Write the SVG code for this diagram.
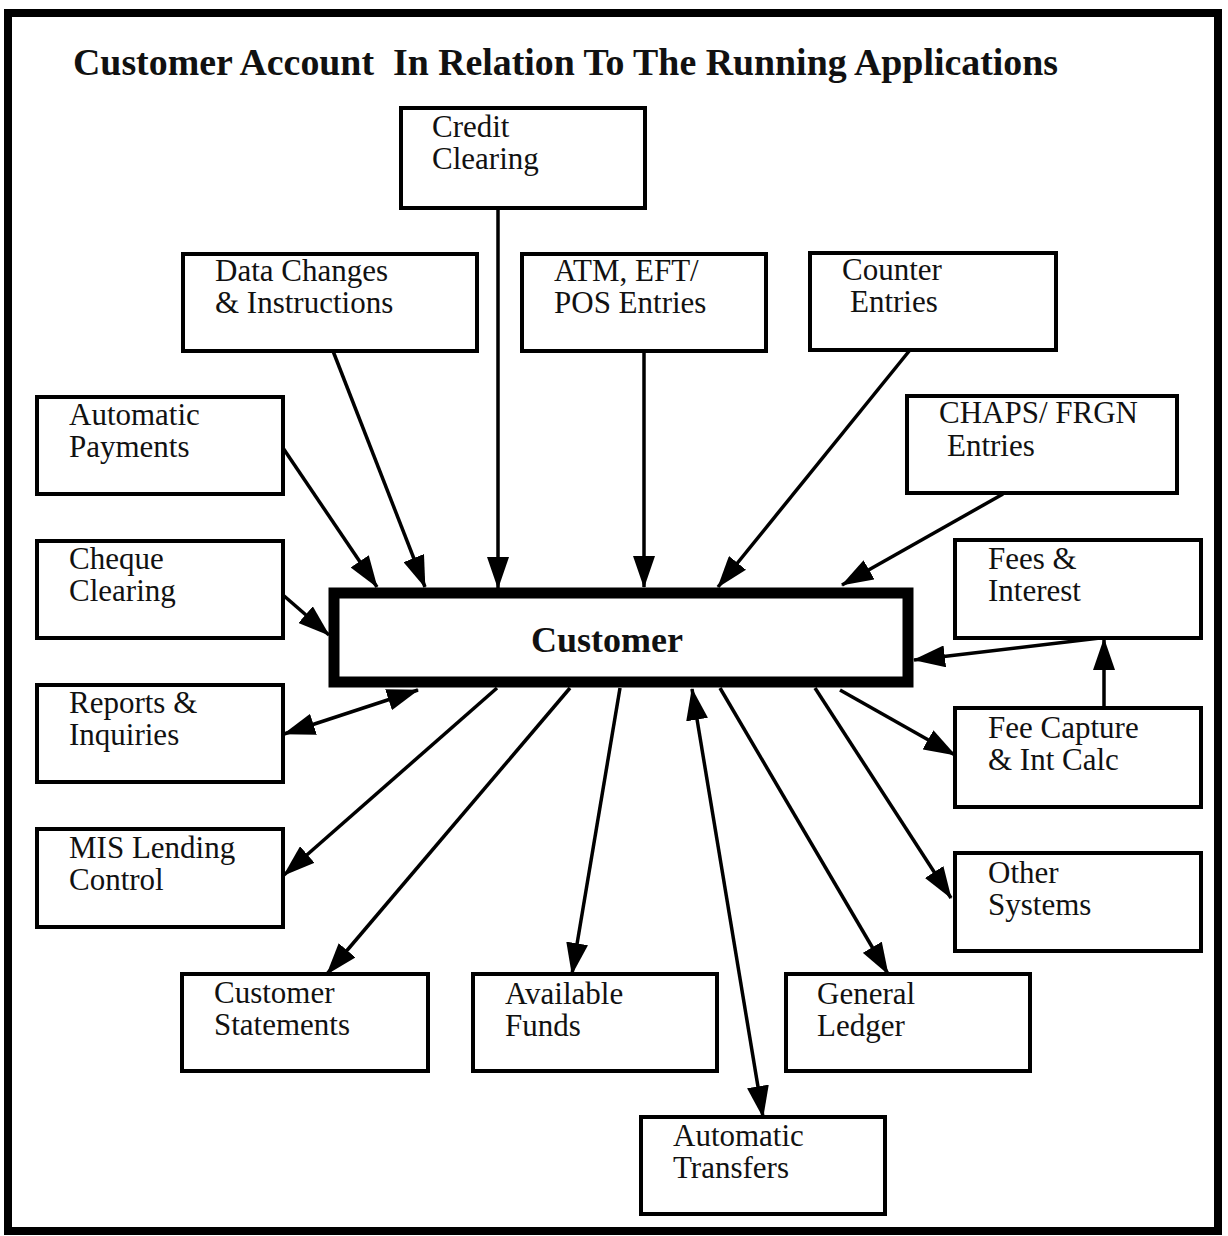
<svg xmlns="http://www.w3.org/2000/svg" width="1228" height="1236" viewBox="0 0 1228 1236">
<style>
.box{fill:#fff;stroke:#000;stroke-width:4}
.main{fill:#fff;stroke:#000;stroke-width:11}
.lbl{font-family:"Liberation Serif","Times New Roman",serif;font-size:31px;fill:#111}
.title{font-family:"Liberation Serif","Times New Roman",serif;font-size:38px;font-weight:bold;fill:#111}
.ctr{font-family:"Liberation Serif","Times New Roman",serif;font-size:36px;font-weight:bold;fill:#111}
.ln{stroke:#000;stroke-width:3.5;fill:none;marker-end:url(#ah)}
.bi{marker-start:url(#ah)}
</style>
<defs>
<marker id="ah" markerUnits="userSpaceOnUse" markerWidth="32" markerHeight="22" viewBox="0 0 32 22" refX="31" refY="11" orient="auto-start-reverse">
<path d="M0,0 L32,11 L0,22 z" fill="#000"/>
</marker>
</defs>
<rect x="0" y="0" width="1228" height="1236" fill="#fff"/>
<rect x="8" y="13" width="1210" height="1218" fill="none" stroke="#000" stroke-width="8"/>
<text class="title" x="73" y="75" textLength="985" lengthAdjust="spacingAndGlyphs">Customer Account&#160; In Relation To The Running Applications</text>

<g id="connectors">
<line class="ln" x1="498" y1="208" x2="498" y2="588"/>
<line class="ln" x1="333" y1="351" x2="425" y2="587"/>
<line class="ln" x1="644" y1="351" x2="644" y2="587"/>
<line class="ln" x1="910" y1="350" x2="718" y2="587"/>
<line class="ln" x1="283" y1="448" x2="377" y2="587"/>
<line class="ln" x1="1003" y1="494" x2="842" y2="585"/>
<line class="ln" x1="283" y1="595" x2="329" y2="635"/>
<line class="ln" x1="1100" y1="638" x2="914" y2="660"/>
<line class="ln" x1="1104" y1="708" x2="1104" y2="639"/>
<line class="ln" x1="840" y1="690" x2="955" y2="755"/>
<line class="ln bi" x1="418" y1="690" x2="284" y2="734"/>
<line class="ln" x1="497" y1="688" x2="284" y2="875"/>
<line class="ln" x1="570" y1="688" x2="327" y2="974"/>
<line class="ln" x1="620" y1="688" x2="572" y2="974"/>
<line class="ln bi" x1="692" y1="689" x2="763" y2="1117"/>
<line class="ln" x1="720" y1="688" x2="888" y2="974"/>
<line class="ln" x1="815" y1="688" x2="951" y2="898"/>
</g>

<g id="credit-clearing"><rect class="box" x="401" y="108" width="244" height="100"/><text class="lbl" x="432" y="137">Credit</text><text class="lbl" x="432" y="169">Clearing</text></g>
<g id="data-changes"><rect class="box" x="183" y="254" width="294" height="97"/><text class="lbl" x="215" y="281">Data Changes</text><text class="lbl" x="215" y="313">&amp; Instructions</text></g>
<g id="atm-eft-pos"><rect class="box" x="522" y="254" width="244" height="97"/><text class="lbl" x="554" y="281">ATM, EFT/</text><text class="lbl" x="554" y="313">POS Entries</text></g>
<g id="counter-entries"><rect class="box" x="810" y="253" width="246" height="97"/><text class="lbl" x="842" y="280">Counter</text><text class="lbl" x="850" y="312">Entries</text></g>
<g id="automatic-payments"><rect class="box" x="37" y="397" width="246" height="97"/><text class="lbl" x="69" y="425">Automatic</text><text class="lbl" x="69" y="457">Payments</text></g>
<g id="chaps-frgn"><rect class="box" x="907" y="396" width="270" height="97"/><text class="lbl" x="939" y="423">CHAPS/ FRGN</text><text class="lbl" x="947" y="456">Entries</text></g>
<g id="cheque-clearing"><rect class="box" x="37" y="541" width="246" height="97"/><text class="lbl" x="69" y="569">Cheque</text><text class="lbl" x="69" y="601">Clearing</text></g>
<g id="fees-interest"><rect class="box" x="955" y="540" width="246" height="98"/><text class="lbl" x="988" y="569">Fees &amp;</text><text class="lbl" x="988" y="601">Interest</text></g>
<g id="customer"><rect class="main" x="334" y="593" width="574" height="89"/><text class="ctr" x="607" y="652" text-anchor="middle">Customer</text></g>
<g id="reports-inquiries"><rect class="box" x="37" y="685" width="246" height="97"/><text class="lbl" x="69" y="713">Reports &amp;</text><text class="lbl" x="69" y="745">Inquiries</text></g>
<g id="fee-capture"><rect class="box" x="955" y="708" width="246" height="99"/><text class="lbl" x="988" y="738">Fee Capture</text><text class="lbl" x="988" y="770">&amp; Int Calc</text></g>
<g id="mis-lending"><rect class="box" x="37" y="829" width="246" height="98"/><text class="lbl" x="69" y="858">MIS Lending</text><text class="lbl" x="69" y="890">Control</text></g>
<g id="other-systems"><rect class="box" x="955" y="853" width="246" height="98"/><text class="lbl" x="988" y="883">Other</text><text class="lbl" x="988" y="915">Systems</text></g>
<g id="customer-statements"><rect class="box" x="182" y="974" width="246" height="97"/><text class="lbl" x="214" y="1003">Customer</text><text class="lbl" x="214" y="1035">Statements</text></g>
<g id="available-funds"><rect class="box" x="473" y="974" width="244" height="97"/><text class="lbl" x="505" y="1004">Available</text><text class="lbl" x="505" y="1036">Funds</text></g>
<g id="general-ledger"><rect class="box" x="786" y="974" width="244" height="97"/><text class="lbl" x="817" y="1004">General</text><text class="lbl" x="817" y="1036">Ledger</text></g>
<g id="automatic-transfers"><rect class="box" x="641" y="1117" width="244" height="97"/><text class="lbl" x="673" y="1146">Automatic</text><text class="lbl" x="673" y="1178">Transfers</text></g>
</svg>
